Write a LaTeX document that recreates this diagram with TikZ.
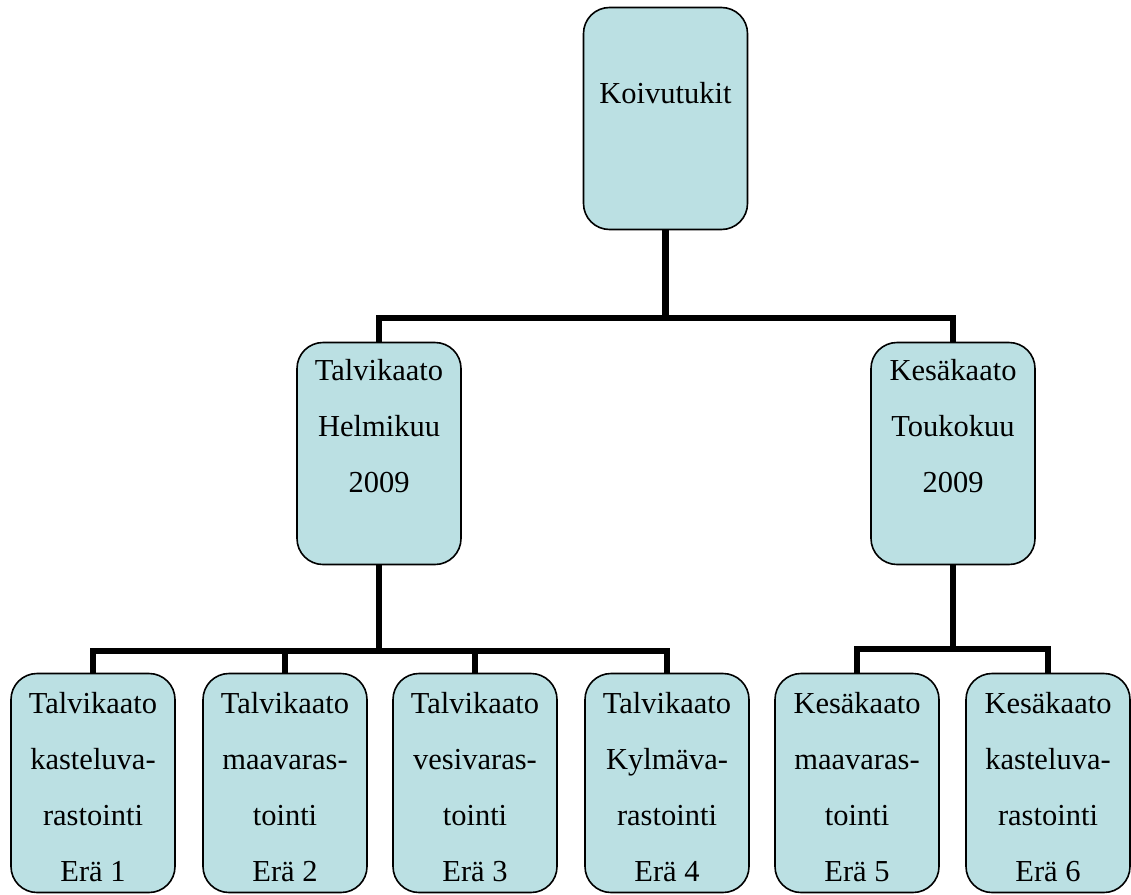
\documentclass[tikz,border=0pt]{standalone}
\usepackage{fontspec}
\setmainfont{Liberation Serif}
\definecolor{boxfill}{RGB}{187,224,227}
\begin{document}
\begin{tikzpicture}[x=1pt,y=-1pt,
  orgbox/.style={draw=black,fill=boxfill,line width=1.6pt,rounded corners=26pt,inner sep=0pt,minimum width=164pt},
  bigbox/.style={orgbox,minimum height=222pt},
  lowbox/.style={orgbox,minimum height=219pt},
  boxtext/.style={align=center,inner sep=0pt,font=\fontsize{30.5}{56}\selectfont},
  conn/.style={draw=black,line width=6.5pt}]
\useasboundingbox (0,0) rectangle (1131,894);
% connectors
\coordinate (bar1) at (665.5,318);
\coordinate (bar2) at (379,651);
\coordinate (bar3) at (953,649);
\node[bigbox] (top) at (665.5,118.5) {};
\node[bigbox] (ml) at (379,453.5) {};
\node[bigbox] (mr) at (953,453.5) {};
\node[lowbox] (b1) at (93,783) {};
\node[lowbox] (b2) at (285,783) {};
\node[lowbox] (b3) at (475,783) {};
\node[lowbox] (b4) at (667,783) {};
\node[lowbox] (b5) at (857,783) {};
\node[lowbox] (b6) at (1048,783) {};
\draw[conn] (top.south) -- (bar1);
\draw[conn] (bar1) -| (ml.north);
\draw[conn] (bar1) -| (mr.north);
\draw[conn] (ml.south) -- (bar2);
\draw[conn] (bar2) -| (b1.north);
\draw[conn] (bar2) -| (b2.north);
\draw[conn] (bar2) -| (b3.north);
\draw[conn] (bar2) -| (b4.north);
\draw[conn] (mr.south) -- (bar3);
\draw[conn] (bar3) -| (b5.north);
\draw[conn] (bar3) -| (b6.north);
% texts
\node[boxtext] (t0) at (665.5,93) {Koivutukit};
\node[boxtext] (t1) at (379,426) {Talvikaato\\Helmikuu\\2009};
\node[boxtext] (t2) at (953,426) {Kesäkaato\\Toukokuu\\2009};
\node[boxtext] (t3) at (93,787) {Talvikaato\\kasteluva-\\rastointi\\Erä 1};
\node[boxtext] (t4) at (285,787) {Talvikaato\\maavaras-\\tointi\\Erä 2};
\node[boxtext] (t5) at (475,787) {Talvikaato\\vesivaras-\\tointi\\Erä 3};
\node[boxtext] (t6) at (667,787) {Talvikaato\\Kylmäva-\\rastointi\\Erä 4};
\node[boxtext] (t7) at (857,787) {Kesäkaato\\maavaras-\\tointi\\Erä 5};
\node[boxtext] (t8) at (1048,787) {Kesäkaato\\kasteluva-\\rastointi\\Erä 6};
\end{tikzpicture}
\end{document}
